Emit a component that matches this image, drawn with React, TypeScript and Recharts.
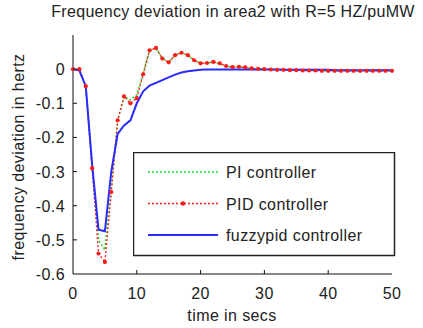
import React from "react"
import { Legend, Line, LineChart, XAxis, YAxis } from "recharts"

const times = [
  0, 1, 2, 3, 4, 5, 6, 7, 8, 9, 10, 11, 12, 13, 14, 15, 16, 17, 18, 19, 20,
  21, 22, 23, 24, 25, 26, 27, 28, 29, 30, 31, 32, 33, 34, 35, 36, 37, 38, 39,
  40, 41, 42, 43, 44, 45, 46, 47, 48, 49, 50,
]

const piValues = [
  0, 0, -0.05, -0.29, -0.5, -0.53, -0.35, -0.15, -0.08, -0.09, -0.075, -0.012,
  0.055, 0.062, 0.032, 0.021, 0.04, 0.048, 0.04, 0.026, 0.018, 0.018, 0.02,
  0.016, 0.009, 0.006, 0.007, 0.005, 0.002, 0.001, 0, -0.001, -0.002, -0.002,
  -0.003, -0.003, -0.004, -0.004, -0.004, -0.005, -0.005, -0.005, -0.005,
  -0.005, -0.005, -0.005, -0.005, -0.005, -0.005, -0.005, -0.005,
]

const pidValues = [
  0, 0, -0.05, -0.29, -0.54, -0.565, -0.36, -0.15, -0.08, -0.1, -0.085, -0.015,
  0.055, 0.062, 0.031, 0.02, 0.041, 0.048, 0.041, 0.026, 0.017, 0.018, 0.021,
  0.017, 0.009, 0.006, 0.007, 0.005, 0.002, 0.001, 0, -0.001, -0.002, -0.002,
  -0.003, -0.003, -0.004, -0.004, -0.004, -0.005, -0.005, -0.005, -0.005,
  -0.005, -0.005, -0.005, -0.005, -0.005, -0.005, -0.005, -0.005,
]

const fuzzyValues = [
  0, -0.004, -0.05, -0.28, -0.47, -0.475, -0.3, -0.19, -0.165, -0.15, -0.1,
  -0.065, -0.048, -0.04, -0.032, -0.024, -0.016, -0.01, -0.006, -0.004, -0.002,
  -0.001, -0.001, -0.001, -0.001, -0.001, -0.001, -0.001, -0.001, -0.001,
  -0.001, -0.001, -0.001, -0.002, -0.002, -0.002, -0.002, -0.002, -0.002,
  -0.002, -0.002, -0.003, -0.003, -0.003, -0.003, -0.003, -0.003, -0.003,
  -0.003, -0.003, -0.003,
]

const xTicks = [0, 10, 20, 30, 40, 50]
const yTicks = [-0.6, -0.5, -0.4, -0.3, -0.2, -0.1, 0]

const legendItems = [
  { label: "PI controller", color: "#22dd22", dash: "2 2", dot: false, width: 1.5 },
  { label: "PID controller", color: "#ff1a1a", dash: "2 2", dot: true, width: 1.3 },
  { label: "fuzzypid controller", color: "#2a2aff", dash: undefined, dot: false, width: 2 },
]

const data = times.map((t, i) => ({
  t,
  pi: piValues[i],
  pid: pidValues[i],
  fuzzy: fuzzyValues[i],
}))

const font = "'Liberation Sans', Arial, sans-serif"
const textColor = "#222"
const textStyle = { letterSpacing: "0.4px" }

function XTick(props: any) {
  const { x, y, payload } = props
  return (
    <g>
      {payload.value !== 0 && payload.value !== 50 && (
        <line x1={x} y1={y} x2={x} y2={y - 4} stroke="#111" />
      )}
      <text x={x} y={y + 25} textAnchor="middle" fontSize={16} fontFamily={font} fill={textColor} style={textStyle}>
        {payload.value}
      </text>
    </g>
  )
}

function YTick(props: any) {
  const { x, y, payload } = props
  return (
    <g>
      {payload.value !== -0.6 && (
        <line x1={x + 8} y1={y} x2={x + 12} y2={y} stroke="#111" />
      )}
      <text x={x} y={y + 6} textAnchor="end" fontSize={16} fontFamily={font} fill={textColor} style={textStyle}>
        {payload.value === 0 ? "0" : payload.value.toFixed(1)}
      </text>
    </g>
  )
}

function LegendBox() {
  return (
    <svg width={263} height={105} style={{ display: "block" }}>
      <rect x={0.5} y={0.5} width={261} height={103} fill="#fff" stroke="#222" strokeWidth={1.5} />
      {legendItems.map((item, i) => {
        const cy = 20 + i * 31.5
        return (
          <g key={item.label}>
            <line
              x1={15}
              y1={cy}
              x2={85}
              y2={cy}
              stroke={item.color}
              strokeWidth={item.width}
              strokeDasharray={item.dash}
            />
            {item.dot && <circle cx={50} cy={cy} r={2.2} fill={item.color} />}
            <text x={93} y={cy + 6} fontSize={16} fontFamily={font} fill={textColor} style={textStyle}>
              {item.label}
            </text>
          </g>
        )
      })}
    </svg>
  )
}

function RedDot(props: any) {
  const { cx, cy, index } = props
  return <circle key={index} cx={cx} cy={cy} r={2.1} fill="#ff1a1a" />
}

export default function App() {
  return (
    <div style={{ position: "absolute", left: 0, top: 0, width: 423, height: 328, background: "#fff" }}>
      <div
        style={{
          position: "absolute",
          left: 0,
          top: 3,
          width: 466,
          textAlign: "center",
          fontFamily: font,
          fontSize: 16,
          letterSpacing: "0.3px",
          color: textColor,
          whiteSpace: "nowrap",
        }}
      >
        Frequency deviation in area2 with R=5 HZ/puMW
      </div>
      <LineChart
        width={423}
        height={328}
        data={data}
        margin={{ top: 35, right: 31, bottom: 0, left: 0 }}
      >
        <XAxis
          dataKey="t"
          type="number"
          domain={[0, 50]}
          ticks={xTicks}
          tickSize={0}
          tickMargin={0}
          height={54}
          stroke="#111"
          tick={<XTick />}
          label={{
            content: () => (
              <text
                x={232}
                y={321}
                textAnchor="middle"
                fontSize={16}
                fontFamily={font}
                fill={textColor}
                style={textStyle}
              >
                time in secs
              </text>
            ),
          }}
        />
        <YAxis
          type="number"
          domain={[-0.6, 0.1]}
          ticks={yTicks}
          tickSize={0}
          tickMargin={8}
          width={73}
          stroke="#111"
          tick={<YTick />}
          label={{
            content: () => (
              <text
                x={20}
                y={157}
                transform="rotate(-90 20 157)"
                textAnchor="middle"
                dominantBaseline="middle"
                fontSize={16}
                fontFamily={font}
                fill={textColor}
                style={textStyle}
              >
                frequency deviation in hertz
              </text>
            ),
          }}
        />
        <Legend
          layout="vertical"
          align="center"
          verticalAlign="middle"
          content={() => <LegendBox />}
          wrapperStyle={{ left: 133, top: 152, width: 263, height: 105 }}
        />
        <Line
          dataKey="pi"
          type="linear"
          stroke="#22dd22"
          strokeWidth={1.5}
          strokeDasharray="2 2"
          dot={false}
          isAnimationActive={false}
        />
        <Line
          dataKey="pid"
          type="linear"
          stroke="#ff1a1a"
          strokeWidth={1.3}
          strokeDasharray="2 2"
          dot={<RedDot />}
          isAnimationActive={false}
        />
        <Line
          dataKey="fuzzy"
          type="linear"
          stroke="#2a2aff"
          strokeWidth={2}
          dot={false}
          isAnimationActive={false}
        />
      </LineChart>
    </div>
  )
}
